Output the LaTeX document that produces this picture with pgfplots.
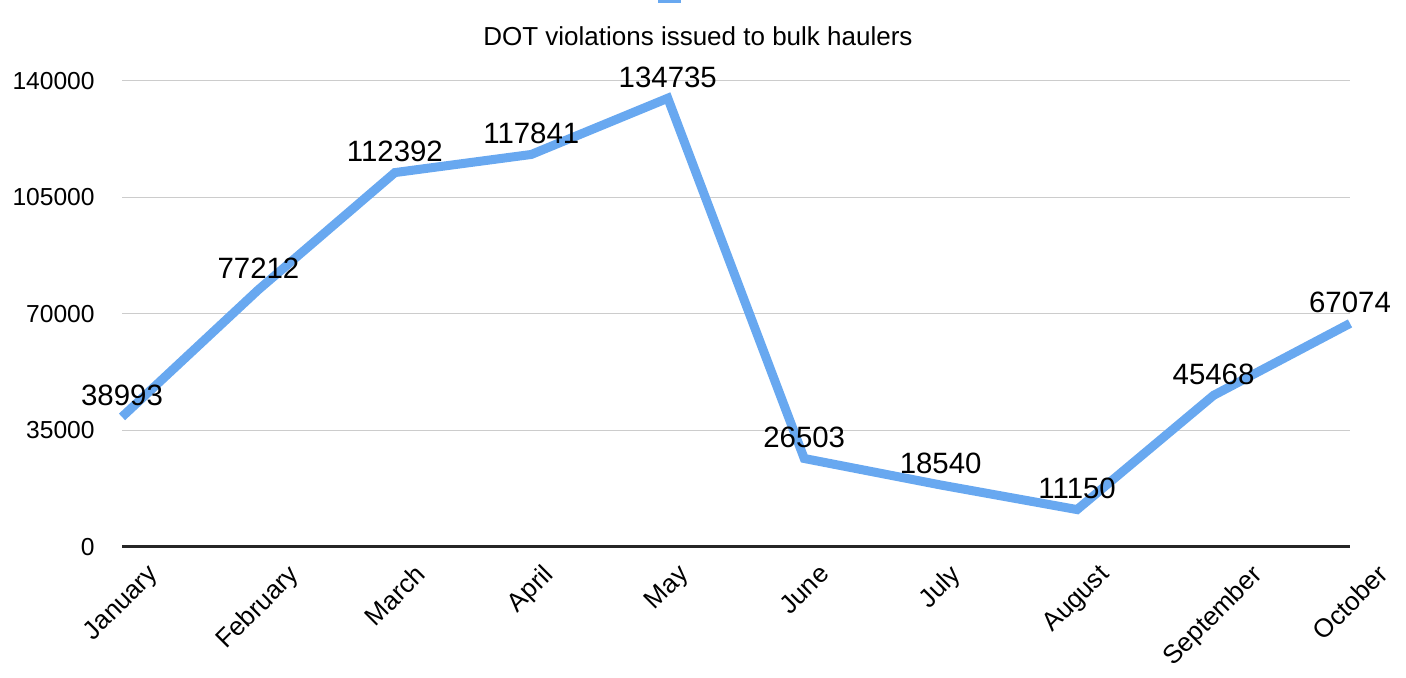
\documentclass[border=0pt]{standalone}
\usepackage{pgfplots}
\pgfplotsset{compat=1.18}
\usepackage{pgfplotstable}
\usepackage{fontspec}
\setmainfont{Liberation Sans}
\definecolor{lineblue}{RGB}{104,168,240}
\pgfplotstableread{
x y lab
0 38993 38993
1 77212 77212
2 112392 112392
3 117841 117841
4 134735 134735
5 26503 26503
6 18540 18540
7 11150 11150
8 45468 45468
9 67074 67074
}\datatable
\begin{document}
\begin{tikzpicture}
\useasboundingbox (-61pt,-65.65pt) rectangle (642pt,273.35pt);
\begin{axis}[
  scale only axis,
  width=614pt, height=233pt,
  at={(0,0)}, anchor=south west,
  xmin=0, xmax=9, ymin=0, ymax=140000,
  xtick=data,
  xticklabels={\rotatebox{45}{January},\rotatebox{45}{February},\rotatebox{45}{March},\rotatebox{45}{April},\rotatebox{45}{May},\rotatebox{45}{June},\rotatebox{45}{July},\rotatebox{45}{August},\rotatebox{45}{September},\rotatebox{45}{October}},
  ytick={0,35000,70000,105000,140000},
  scaled y ticks=false,
  /pgf/number format/.cd, fixed, set thousands separator={}, assume math mode=true,
  /pgfplots/.cd,
  axis x line*=bottom, axis y line*=left,
  x axis line style={color=black!85, line width=1.2pt, -},
  y axis line style={draw=none},
  tick style={draw=none},
  ymajorgrids,
  grid style={color=black!20, line width=0.5pt},
  xticklabel style={anchor=north, inner sep=0pt, yshift=-8pt, font=\fontsize{13}{15}\selectfont},
  yticklabel style={anchor=east, inner sep=0pt, xshift=-13.5pt, font=\fontsize{12.3}{14}\selectfont},
  title={DOT violations issued to bulk haulers},
  title style={at={(0.469,1)}, anchor=base, yshift=11.75pt, inner sep=0pt, font=\fontsize{13}{15}\selectfont},
  clip=false,
  legend style={at={(0.447,1)}, anchor=south, yshift=39pt, draw=none, fill=none, inner sep=0pt, outer sep=0pt, nodes={inner sep=0pt}},
  legend image code/.code={\fill[lineblue] (0pt,-2pt) rectangle (7pt,4pt);},
]
\addplot[color=lineblue, line width=4.5pt, line join=miter,
  point meta=explicit symbolic,
  nodes near coords,
  nodes near coords style={anchor=base, yshift=5.5pt, inner sep=0pt, text=black, font=\fontsize{14.7}{17}\selectfont}]
  table[x=x, y=y, meta=lab] {\datatable};
\addlegendentry{}
\end{axis}
\end{tikzpicture}
\end{document}
